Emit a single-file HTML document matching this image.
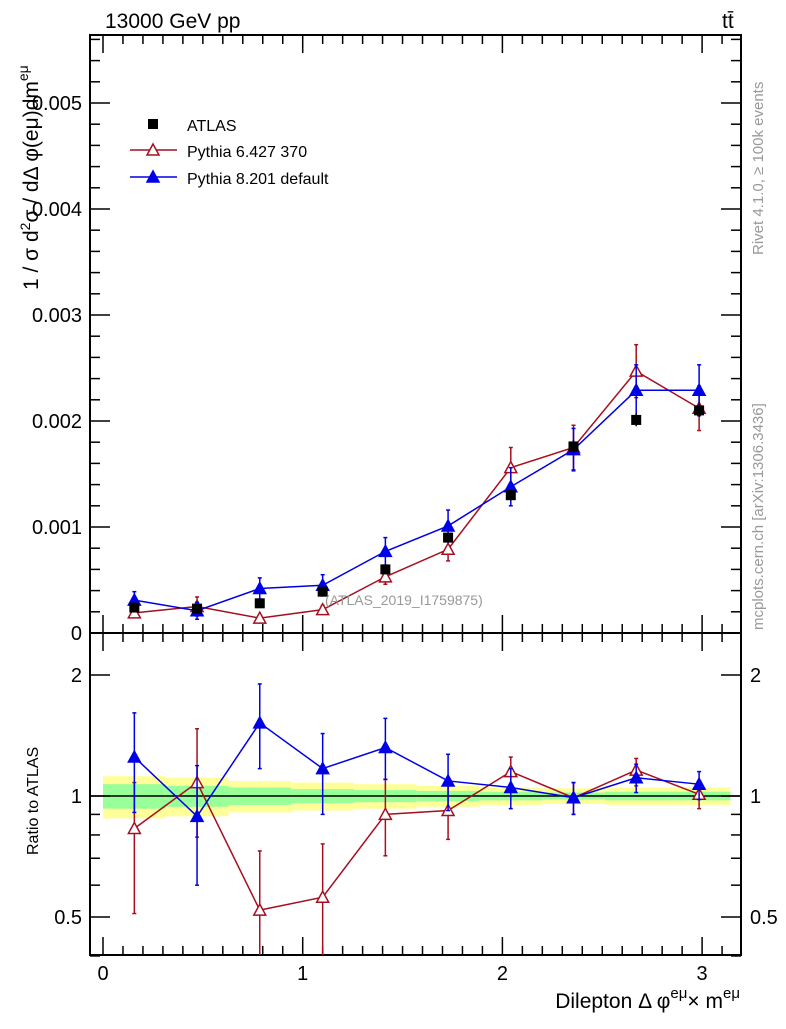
<!DOCTYPE html>
<html><head><meta charset="utf-8"><style>
body{margin:0;background:#fff;width:786px;height:1024px;overflow:hidden}
svg{font-family:"Liberation Sans",sans-serif}
</style></head><body>
<svg id="c" width="786" height="1024"></svg>
<script>
const xc=[0.157,0.471,0.785,1.100,1.414,1.728,2.042,2.356,2.670,2.985];
const atlas=[0.00024,0.00023,0.00028,0.00039,0.00060,0.00090,0.00130,0.00176,0.00201,0.00210];
const atlasErr=[0.00002,0.00002,0.00002,0.00003,0.00003,0.00004,0.00005,0.00006,0.00006,0.00006];
const py6=[0.00019,0.00025,0.00014,0.00022,0.00053,0.00079,0.00156,0.00175,0.00247,0.00212];
const py6Err=[0.00003,0.00009,0.00003,0.00004,0.00007,0.00011,0.00019,0.00021,0.00025,0.00021];
const py8=[0.00031,0.00021,0.00042,0.00045,0.00077,0.00101,0.00138,0.00173,0.00229,0.00229];
const py8Err=[0.00008,0.00008,0.00010,0.00010,0.00013,0.00015,0.00018,0.00020,0.00024,0.00024];
const r6=[0.83,1.08,0.52,0.56,0.90,0.92,1.15,0.99,1.16,1.01];
const r6lo=[0.51,0.79,0.30,0.30,0.71,0.78,1.03,0.90,1.06,0.93];
const r6hi=[1.08,1.47,0.73,0.76,1.10,1.08,1.25,1.08,1.24,1.09];
const r8=[1.25,0.89,1.52,1.17,1.32,1.09,1.05,0.99,1.11,1.07];
const r8lo=[0.91,0.60,1.17,0.90,1.10,0.92,0.93,0.90,1.02,0.98];
const r8hi=[1.61,1.19,1.90,1.43,1.56,1.27,1.17,1.08,1.20,1.15];
const bandY=[0.12,0.11,0.09,0.08,0.07,0.06,0.05,0.045,0.05,0.05];
const bandG=[0.07,0.06,0.05,0.04,0.035,0.03,0.025,0.02,0.025,0.025];
const binW=Math.PI/10;

const L=90,R=741,T=35,M=633,B=955;
const X=v=>103+v*199.7;
const Y=v=>633-v*106000;
const RY=v=>796-Math.log2(v)*121;
const svg=document.getElementById('c');
const NS='http://www.w3.org/2000/svg';
function el(t,a,p){const e=document.createElementNS(NS,t);for(const k in a)e.setAttribute(k,a[k]);(p||svg).appendChild(e);return e;}
function txt(s,a){const e=el('text',a);e.textContent=s;return e;}

const gb=el('g',{});
xc.forEach((x,i)=>{
 const x0=X(i*binW),x1=X((i+1)*binW);
 el('rect',{x:x0,y:RY(1+bandY[i]),width:x1-x0,height:RY(1-bandY[i])-RY(1+bandY[i]),fill:'#ffff99'},gb);
 el('rect',{x:x0,y:RY(1+bandG[i]),width:x1-x0,height:RY(1-bandG[i])-RY(1+bandG[i]),fill:'#99ff99'},gb);
});
el('line',{x1:L,x2:R,y1:RY(1),y2:RY(1),stroke:'#000','stroke-width':1.5});

const f1=el('rect',{x:L,y:T,width:R-L,height:M-T,fill:'none',stroke:'#000','stroke-width':2});

const f2=el('rect',{x:L,y:M,width:R-L,height:B-M,fill:'none',stroke:'#000','stroke-width':2});


for(let v=0;v<=3.2;v+=0.1){
 const vv=Math.round(v*10)/10, maj=Math.abs(vv-Math.round(vv))<1e-6, len=maj?18:9;
 [[T,1],[M,-1],[M,1],[B,-1]].forEach(([y,d])=>el('line',{x1:X(vv),x2:X(vv),y1:y,y2:y+d*len,stroke:'#000','stroke-width':1.5}));
 if(maj){const t=txt(String(vv),{x:X(vv),y:980,'font-size':20,'text-anchor':'middle'});}
}
for(let k=0;k<=28;k++){
 const v=k*0.0002, y=Y(v); if(y<T) break; const maj=k%5==0, len=maj?20:10;
 el('line',{x1:L,x2:L+len,y1:y,y2:y,stroke:'#000','stroke-width':1.5});
 el('line',{x1:R,x2:R-len,y1:y,y2:y,stroke:'#000','stroke-width':1.5});
 if(maj){const t=txt(k==0?'0':(v).toFixed(3),{x:82,y:y+7,'font-size':20,'text-anchor':'end'});}
}
[0.4,0.5,0.6,0.7,0.8,0.9,1,2].forEach(v=>{
 const y=RY(v), maj=(v==0.5||v==1||v==2), len=maj?20:10;
 el('line',{x1:L,x2:L+len,y1:y,y2:y,stroke:'#000','stroke-width':1.5});
 el('line',{x1:R,x2:R-len,y1:y,y2:y,stroke:'#000','stroke-width':1.5});
 if(maj){
  const a=txt(String(v),{x:82,y:y+7,'font-size':20,'text-anchor':'end'});
  const b=txt(String(v),{x:750,y:y+7,'font-size':20});
 }
});

function tri(x,y,col,open){return el('path',{d:`M${x} ${y-6}L${x+6} ${y+5}L${x-6} ${y+5}Z`,fill:open?'#fff':col,stroke:col,'stroke-width':1.5});}
function series(vals,lo,hi,fy,col,open,name){
 const g=el('g',{});
 el('polyline',{points:xc.map((x,i)=>X(x)+','+fy(vals[i])).join(' '),fill:'none',stroke:col,'stroke-width':1.5},g);
 xc.forEach((x,i)=>{
  const y1=Math.min(fy(lo[i]),B),y2=Math.max(fy(hi[i]),T);
  el('line',{x1:X(x),x2:X(x),y1:y1,y2:y2,stroke:col,'stroke-width':1.5},g);
  el('line',{x1:X(x)-2,x2:X(x)+2,y1:y2,y2:y2,stroke:col,'stroke-width':1.5},g);
  if(fy(lo[i])<B)el('line',{x1:X(x)-2,x2:X(x)+2,y1:y1,y2:y1,stroke:col,'stroke-width':1.5},g);
  const m=tri(X(x),fy(vals[i]),col,open);g.appendChild(m);
 });
}
const Ym=v=>Y(v);
series(py6,py6.map((v,i)=>v-py6Err[i]),py6.map((v,i)=>v+py6Err[i]),Ym,'#a50f1f',true,'pythia6-series');
series(py8,py8.map((v,i)=>v-py8Err[i]),py8.map((v,i)=>v+py8Err[i]),Ym,'#0000e6',false,'pythia8-series');
const ga=el('g',{});
xc.forEach((x,i)=>{
 el('line',{x1:X(x),x2:X(x),y1:Y(atlas[i]-atlasErr[i]),y2:Y(atlas[i]+atlasErr[i]),stroke:'#000','stroke-width':1.5},ga);
 el('rect',{x:X(x)-5,y:Y(atlas[i])-5,width:10,height:10,fill:'#000'},ga);
});
series(r6,r6lo,r6hi,RY,'#a50f1f',true,'pythia6-ratio');
series(r8,r8lo,r8hi,RY,'#0000e6',false,'pythia8-ratio');

const lg=el('g',{});
el('rect',{x:148,y:119,width:10,height:10,fill:'#000'},lg);
el('line',{x1:130,x2:177,y1:150,y2:150,stroke:'#a50f1f','stroke-width':1.5},lg);
lg.appendChild(tri(153,150,'#a50f1f',true));
el('line',{x1:130,x2:177,y1:177,y2:177,stroke:'#0000e6','stroke-width':1.5},lg);
lg.appendChild(tri(153,177,'#0000e6',false));
[['ATLAS',131],['Pythia 6.427 370',157],['Pythia 8.201 default',184]].forEach(([s,y])=>{const t=txt(s,{x:187,y:y,'font-size':16});});

let t;
t=txt('13000 GeV pp',{x:105,y:28,'font-size':21});
t=txt('tt̄',{x:722,y:28,'font-size':21});
t=txt('(ATLAS_2019_I1759875)',{x:325,y:605,'font-size':14,fill:'#999'});
t=txt('Rivet 4.1.0, ≥ 100k events',{x:0,y:0,'font-size':15,fill:'#999',transform:'translate(763,255) rotate(-90)'});
t=txt('mcplots.cern.ch [arXiv:1306.3436]',{x:0,y:0,'font-size':15,fill:'#999',transform:'translate(763,630) rotate(-90)'});
t=el('text',{x:0,y:0,'font-size':21,transform:'translate(38,290) rotate(-90)'});
t.innerHTML='1 / σ  d<tspan dy="-8" font-size="14">2</tspan><tspan dy="8">σ / dΔ φ(eμ)dm</tspan><tspan dy="-10" font-size="14">eμ</tspan>';

t=txt('Ratio to ATLAS',{x:0,y:0,'font-size':16,transform:'translate(38,855) rotate(-90)'});
t=el('text',{x:740,y:1008,'font-size':21,'text-anchor':'end'});
t.innerHTML='Dilepton Δ φ<tspan dy="-10" font-size="15">eμ</tspan><tspan dy="10">× m</tspan><tspan dy="-10" font-size="15">eμ</tspan>';

</script>
</body></html>
